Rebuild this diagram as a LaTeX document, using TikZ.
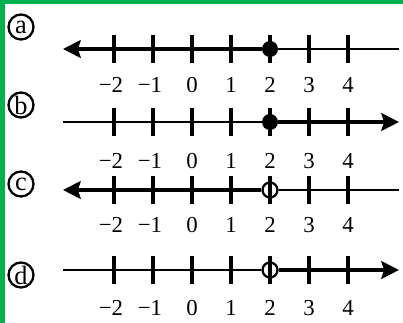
\documentclass[tikz,border=0pt]{standalone}
\usepackage{fontspec}
\setmainfont{Liberation Serif}
\usepackage{xcolor}
\usetikzlibrary{arrows.meta, positioning, calc}
\definecolor{framegreen}{RGB}{0,176,80}

\begin{document}
\begin{tikzpicture}[
    x=0.02cm, y=-0.02cm,
    bigline/.style={line width=2.6pt},
    smallline/.style={line width=1.3pt},
    tickmark/.style={line width=1.8pt},
    numlabel/.style={font=\fontsize{13}{13}\selectfont, inner sep=0pt},
    choice/.style={draw, circle, line width=1.3pt, minimum size=0.5cm, inner sep=0pt, font=\fontsize{15}{15}\selectfont},
    leftarr/.style={{Stealth[length=10pt, width=10pt, inset=1.5pt]}-},
    rightarr/.style={-{Stealth[length=10pt, width=10pt, inset=1.5pt]}},
    closedpt/.style={circle, fill=black, minimum size=0.32cm, inner sep=0pt},
    openpt/.style={circle, draw, fill=white, line width=1.3pt, minimum size=0.3cm, inner sep=0pt}
]
    % Frame
    \useasboundingbox (0,0) rectangle (403,323);
    \fill[white] (0,0) rectangle (403,323);
    \fill[framegreen] (0,0) rectangle (403,4);
    \fill[framegreen] (0,0) rectangle (5,323);

    % End points and the point at 2
    \foreach \r/\y in {a/49, b/122, c/190, d/270} {
        \coordinate (\r-left) at (63,\y);
        \coordinate (\r-right) at (399,\y);
    }
    \node[closedpt] (a-pt) at (270,49) {};
    \node[closedpt] (b-pt) at (270,122) {};
    \node[openpt] (c-pt) at (270,190) {};
    \node[openpt] (d-pt) at (270,270) {};

    % Lines
    \draw[bigline, leftarr] (a-left) -- (a-pt);
    \draw[smallline] (a-pt) -- (a-right);
    \draw[smallline] (b-left) -- (b-pt);
    \draw[bigline, rightarr] (b-pt) -- (b-right);
    \draw[bigline, leftarr] (c-left) -- (c-pt);
    \draw[smallline] (c-pt) -- (c-right);
    \draw[smallline] (d-left) -- (d-pt);
    \draw[bigline, rightarr] (d-pt) -- (d-right);

    % Ticks and numbers
    \foreach \r/\y/\ny/\cy in {a/49/85/27, b/122/161/105, c/190/225/184, d/270/308/275} {
        \node[choice] (\r-tag) at (21,\cy) {\r};
        \foreach \x/\t/\s in {114/−2/-3, 153/−1/-3, 192/0/0, 231/1/0, 270/2/0, 309/3/0, 348/4/0} {
            \draw[tickmark] (\x,\y-14) -- (\x,\y+14);
            \node[numlabel] (\r-n\t) at (\x+\s,\ny) {\t};
        }
    }
\end{tikzpicture}
\end{document}
